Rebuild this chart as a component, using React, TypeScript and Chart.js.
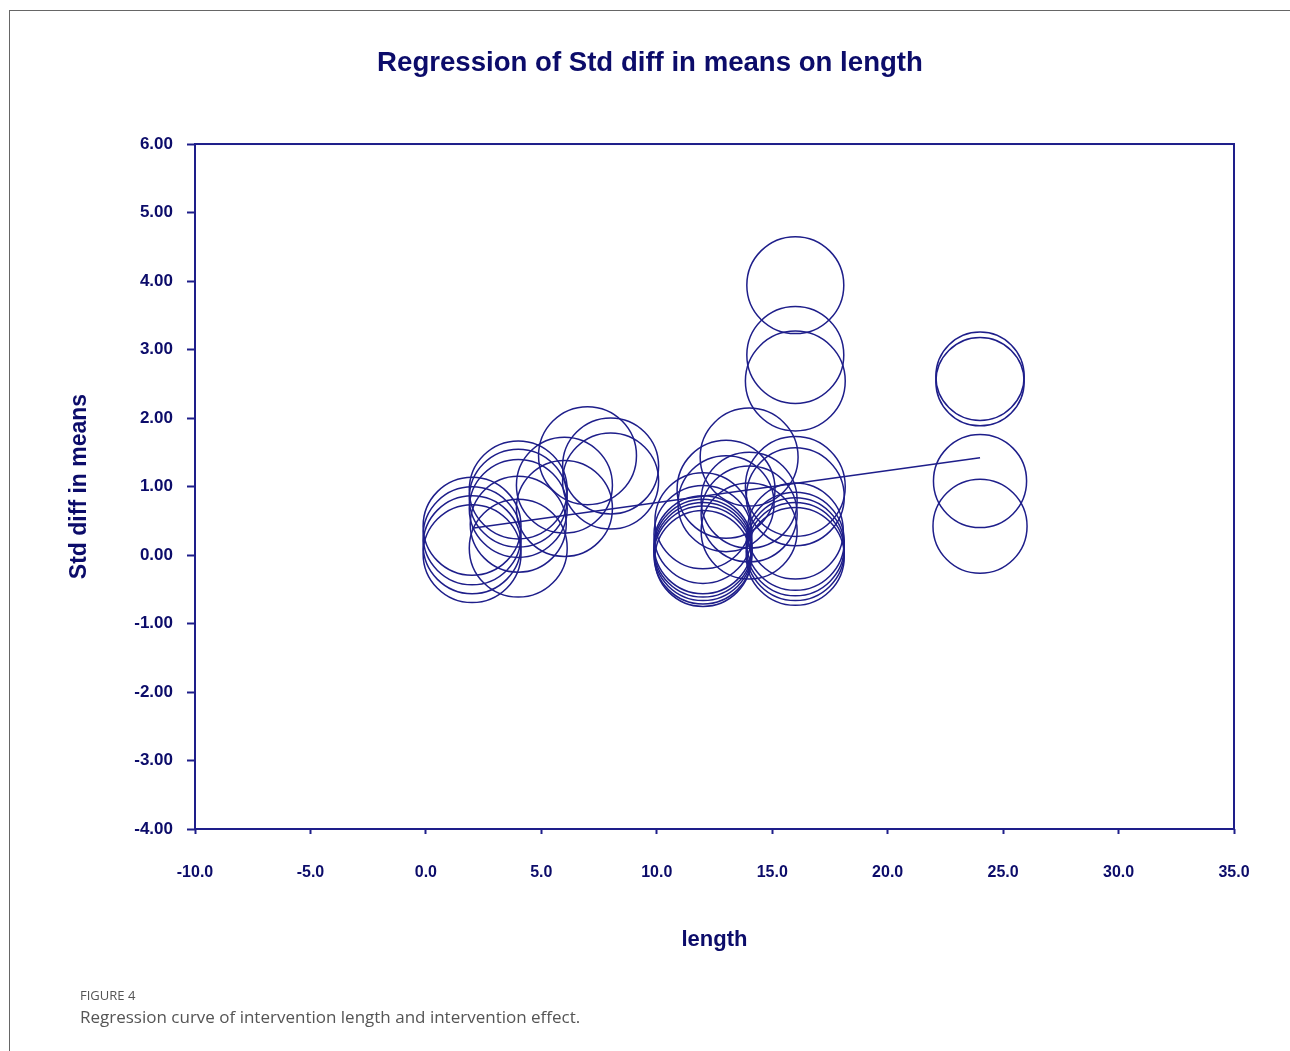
import React, { useEffect, useRef } from "react";
import { Chart, registerables } from "chart.js";

Chart.register(...registerables);

// ---- data ----
const studyLength = [
  2, 2, 2, 2,
  4, 4, 4, 4, 4,
  6, 6,
  7,
  8, 8,
  12, 12, 12, 12, 12, 12, 12,
  13, 13,
  14, 14, 14, 14,
  16, 16, 16, 16, 16, 16, 16, 16, 16, 16,
  24, 24, 24, 24,
];
const stdDiffInMeans = [
  0.42, 0.28, 0.15, 0.02,
  0.95, 0.83, 0.68, 0.45, 0.1,
  1.02, 0.68,
  1.45,
  1.3, 1.08,
  0.5, 0.3, 0.15, 0.1, 0.05, 0.0, -0.05,
  0.96, 0.75,
  1.43, 0.8, 0.6, 0.35,
  3.94, 2.92, 2.54, 1.0, 0.85, 0.35, 0.2, 0.12, 0.05, -0.02,
  2.61, 2.53, 1.08, 0.42,
];
// relative study weights (bubble size)
const studyWeight = [
  1.02, 1.02, 1.02, 1.02,
  1.02, 1.02, 1.02, 1.0, 1.02,
  1.0, 1.0,
  1.02,
  1.0, 1.0,
  1.0, 1.02, 1.02, 1.02, 1.02, 1.02, 1.0,
  1.02, 1.0,
  1.02, 1.0, 1.0, 1.0,
  1.01, 1.01, 1.04, 1.04, 1.02, 1.0, 1.02, 1.02, 1.02, 1.02,
  0.92, 0.92, 0.97, 0.98,
];
const regressionLength = [2, 24];
const regressionFit = [0.39, 1.42];

const xMin = -10, xMax = 35, xStep = 5;
const yMin = -4, yMax = 6, yStep = 1;

const TITLE = "Regression of Std diff in means on length";
const Y_TITLE = "Std diff in means";
const X_TITLE = "length";

const NAVY = "#1e1e8a";
const NAVY_TEXT = "#0c0c6a";
const FONT = "'Liberation Sans', Arial, Helvetica, sans-serif";
const BUBBLE_BASE = 48;

const framePlugin = {
  id: "plotFrame",
  afterDatasetsDraw(chart: any) {
    const { ctx, chartArea } = chart;
    const { left, top, right, bottom } = chartArea;
    ctx.save();
    ctx.strokeStyle = NAVY;
    ctx.lineWidth = 2;
    ctx.strokeRect(left, top, right - left, bottom - top);
    ctx.restore();
  },
};

function RegressionChart() {
  const ref = useRef<HTMLCanvasElement | null>(null);

  useEffect(() => {
    if (!ref.current) return;
    const bubbles = studyLength.map((x, i) => ({
      x,
      y: stdDiffInMeans[i],
      r: BUBBLE_BASE * studyWeight[i],
    }));
    const line = regressionLength.map((x, i) => ({ x, y: regressionFit[i] }));

    const chart = new Chart(ref.current, {
      type: "bubble",
      data: {
        datasets: [
          {
            type: "line",
            label: "Regression",
            data: line,
            borderColor: NAVY,
            borderWidth: 1.5,
            pointRadius: 0,
            fill: false,
          } as any,
          {
            type: "bubble",
            label: "Studies",
            data: bubbles,
            backgroundColor: "rgba(0,0,0,0)",
            borderColor: NAVY,
            borderWidth: 1.5,
          } as any,
        ],
      },
      options: {
        responsive: false,
        animation: false,
        layout: { padding: { left: 66, right: 56, top: 0, bottom: 0 } },
        plugins: {
          legend: { display: false },
          tooltip: { enabled: false },
          title: {
            display: true,
            text: TITLE,
            color: NAVY_TEXT,
            font: { family: FONT, size: 27.6, weight: "bold" },
            padding: { top: 47, bottom: 63.9 },
          },
        },
        scales: {
          x: {
            type: "linear",
            min: xMin,
            max: xMax,
            ticks: {
              stepSize: xStep,
              autoSkip: false,
              maxRotation: 0,
              padding: 29,
              color: NAVY_TEXT,
              font: { family: FONT, size: 16, weight: "bold" },
              callback: (v: any) => Number(v).toFixed(1),
            },
            grid: {
              display: true,
              drawOnChartArea: false,
              drawTicks: true,
              tickLength: 5,
              tickColor: NAVY,
              tickWidth: 2,
            },
            border: { display: false },
            title: {
              display: true,
              text: X_TITLE,
              color: NAVY_TEXT,
              font: { family: FONT, size: 22, weight: "bold" },
              padding: { top: 0, bottom: 47 },
            },
            afterFit(scale: any) {
              scale.height = 171;
            },
          },
          y: {
            type: "linear",
            min: yMin,
            max: yMax,
            ticks: {
              stepSize: yStep,
              padding: 14,
              color: NAVY_TEXT,
              font: { family: FONT, size: 17, weight: "bold" },
              callback: (v: any) => Number(v).toFixed(2),
            },
            grid: {
              display: true,
              drawOnChartArea: false,
              drawTicks: true,
              tickLength: 8,
              tickColor: NAVY,
              tickWidth: 2,
            },
            border: { display: false },
            title: {
              display: true,
              text: Y_TITLE,
              color: NAVY_TEXT,
              font: { family: FONT, size: 23, weight: "bold" },
              padding: { top: 0.2, bottom: 0 },
            },
            afterFit(scale: any) {
              scale.width = 129;
            },
          },
        },
      } as any,
      plugins: [framePlugin],
    });
    return () => chart.destroy();
  }, []);

  return (
    <canvas
      ref={ref}
      width={1290}
      height={1000}
      style={{ position: "absolute", left: 0, top: 0, width: 1290, height: 1000 }}
    />
  );
}

export default function App() {
  return (
    <div>
      <div
        style={{
          position: "absolute",
          left: 9,
          top: 10,
          width: 1281,
          height: 0,
          borderTop: "1.5px solid #666",
        }}
      />
      <div
        style={{
          position: "absolute",
          left: 9,
          top: 10,
          width: 0,
          height: 1041,
          borderLeft: "1.5px solid #666",
        }}
      />
      <RegressionChart />
      <div
        style={{
          position: "absolute",
          left: 80,
          top: 986,
          fontFamily: "'Open Sans', 'Noto Sans', sans-serif",
          fontSize: 13,
          color: "#555",
          letterSpacing: 0,
        }}
      >
        FIGURE 4
      </div>
      <div
        style={{
          position: "absolute",
          left: 80,
          top: 1005,
          fontFamily: "'Open Sans', 'Noto Sans', sans-serif",
          fontSize: 17,
          color: "#555",
          whiteSpace: "nowrap",
        }}
      >
        Regression curve of intervention length and intervention effect.
      </div>
    </div>
  );
}
